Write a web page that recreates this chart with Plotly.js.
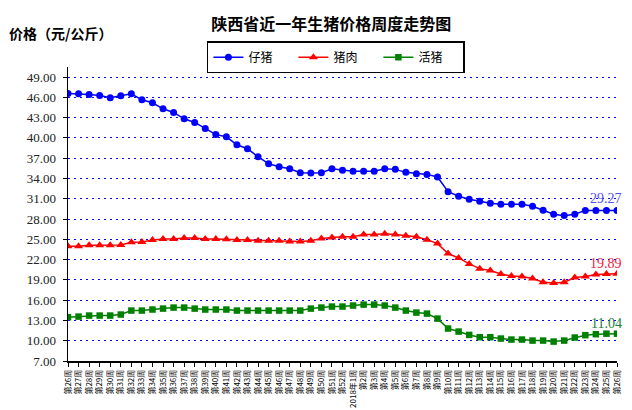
<!DOCTYPE html>
<html>
<head>
<meta charset="utf-8">
<script src="https://cdn.plot.ly/plotly-3.0.1.min.js"></script>
<style>
html,body{margin:0;padding:0;background:#fff;}
#chart{width:632px;height:410px;}
</style>
</head>
<body>
<div id="chart"></div>
<script>
var weekLabels = ["第26周","第27周","第28周","第29周","第30周","第31周","第32周","第33周","第34周","第35周",
  "第36周","第37周","第38周","第39周","第40周","第41周","第42周","第43周","第44周","第45周",
  "第46周","第47周","第48周","第49周","第50周","第51周","第52周","2018年1周","第2周","第3周",
  "第4周","第5周","第6周","第7周","第8周","第9周","第10周","第11周","第12周","第13周",
  "第14周","第15周","第16周","第17周","第18周","第19周","第20周","第21周","第22周","第23周",
  "第24周","第25周","第26周"];

var piglet = [46.57,46.52,46.42,46.28,45.92,46.22,46.52,45.63,45.19,44.30,
  43.76,42.82,42.28,41.40,40.48,40.16,38.98,38.39,37.21,36.17,
  35.73,35.44,34.85,34.80,34.85,35.44,35.20,35.05,35.05,35.05,
  35.44,35.34,34.90,34.70,34.60,34.21,32.04,31.36,30.91,30.62,
  30.32,30.18,30.18,30.18,29.88,29.29,28.70,28.50,28.70,29.27,
  29.27,29.27,29.27];

var pork = [23.97,23.97,24.12,24.12,24.12,24.16,24.56,24.61,24.90,25.05,
  25.05,25.20,25.20,25.05,25.05,25.00,24.90,24.90,24.80,24.80,
  24.80,24.66,24.66,24.80,25.10,25.25,25.39,25.39,25.69,25.69,
  25.83,25.69,25.54,25.39,24.95,24.36,22.88,22.24,21.36,20.66,
  20.37,19.88,19.58,19.48,19.19,18.65,18.55,18.65,19.34,19.48,
  19.78,19.88,19.89];

var livePig = [13.48,13.57,13.72,13.72,13.72,13.87,14.46,14.46,14.61,14.75,
  14.90,14.90,14.75,14.61,14.61,14.61,14.46,14.46,14.46,14.46,
  14.46,14.46,14.46,14.75,14.90,15.05,15.05,15.20,15.34,15.34,
  15.20,14.90,14.46,14.16,14.01,13.27,11.80,11.35,10.86,10.52,
  10.52,10.32,10.17,10.17,10.02,10.02,9.87,10.02,10.47,10.82,
  10.96,11.04,11.04];

var yTicks = [7,10,13,16,19,22,25,28,31,34,37,40,43,46,49];

var seriesNames = ["仔猪","猪肉","活猪"];

var idx = weekLabels.map(function(_, i){ return i; });
var last = idx.length - 1;

var traces = [
  {x: idx, y: piglet, name: seriesNames[0], type: "scatter", mode: "lines+markers",
   line: {color: "#0000ff", width: 1.5}, marker: {symbol: "circle", size: 7, color: "#0000ff"}},
  {x: idx, y: pork, name: seriesNames[1], type: "scatter", mode: "lines+markers",
   line: {color: "#ff0000", width: 1.5}, marker: {symbol: "triangle-up", size: 8, color: "#ff0000"}},
  {x: idx, y: livePig, name: seriesNames[2], type: "scatter", mode: "lines+markers",
   line: {color: "#008000", width: 1.5}, marker: {symbol: "square", size: 6.5, color: "#008000"}}
];

function endLabel(arr, color, ys) {
  return {x: last, y: arr[last], xref: "x", yref: "y", text: arr[last].toFixed(2),
    showarrow: false, xanchor: "center", yanchor: "middle", xshift: -11, yshift: ys,
    font: {family: "Liberation Serif, serif", size: 14, color: color}};
}

var layout = {
  width: 632, height: 410,
  margin: {l: 68, r: 15, t: 67, b: 49},
  paper_bgcolor: "#ffffff", plot_bgcolor: "#ffffff",
  showlegend: true,
  title: {text: "陕西省近一年生猪价格周度走势图", x: 0.524, xref: "container", xanchor: "center",
    y: 0.94, yref: "container", yanchor: "middle",
    font: {family: "Noto Sans CJK SC", size: 16, color: "#000", weight: "bold"}},
  legend: {orientation: "h", x: 0.253, xanchor: "left", y: 1.088, yanchor: "top",
    bordercolor: "#000", borderwidth: 1.5, bgcolor: "#fff",
    entrywidth: 40, entrywidthmode: "pixels",
    font: {family: "Noto Sans CJK SC", size: 12, color: "#000"}},
  xaxis: {type: "linear", range: [0, last], tickmode: "array", tickvals: idx, ticktext: weekLabels,
    tickangle: -90, showgrid: false, zeroline: false, showline: true, linecolor: "#000", linewidth: 1.5,
    ticks: "outside", ticklen: 4, tickcolor: "#000",
    tickfont: {family: "Noto Sans CJK SC", size: 8, color: "#000"}},
  yaxis: {range: [7, 50.48], tickmode: "array", tickvals: yTicks, tickformat: ".2f",
    showgrid: true, gridcolor: "#0000ff", gridwidth: 1, griddash: "2px,4px",
    zeroline: false, showline: true, linecolor: "#000", linewidth: 1.5,
    ticks: "outside", ticklen: 4, tickcolor: "#000", ticklabelstandoff: 4,
    tickfont: {family: "Liberation Serif, serif", size: 13, color: "#222"}},
  annotations: [
    {x: 0, y: 1, xref: "paper", yref: "paper", xanchor: "left", yanchor: "middle",
     xshift: -61, yshift: 34, text: "价格（元/公斤）", showarrow: false,
     font: {family: "Noto Sans CJK SC", size: 14, color: "#000", weight: "bold"}},
    endLabel(piglet, "#5050ee", 12),
    endLabel(pork, "#ee2244", 10.5),
    endLabel(livePig, "#208040", 10.5)
  ]
};

Plotly.newPlot("chart", traces, layout, {staticPlot: true, displayModeBar: false});
</script>
</body>
</html>
